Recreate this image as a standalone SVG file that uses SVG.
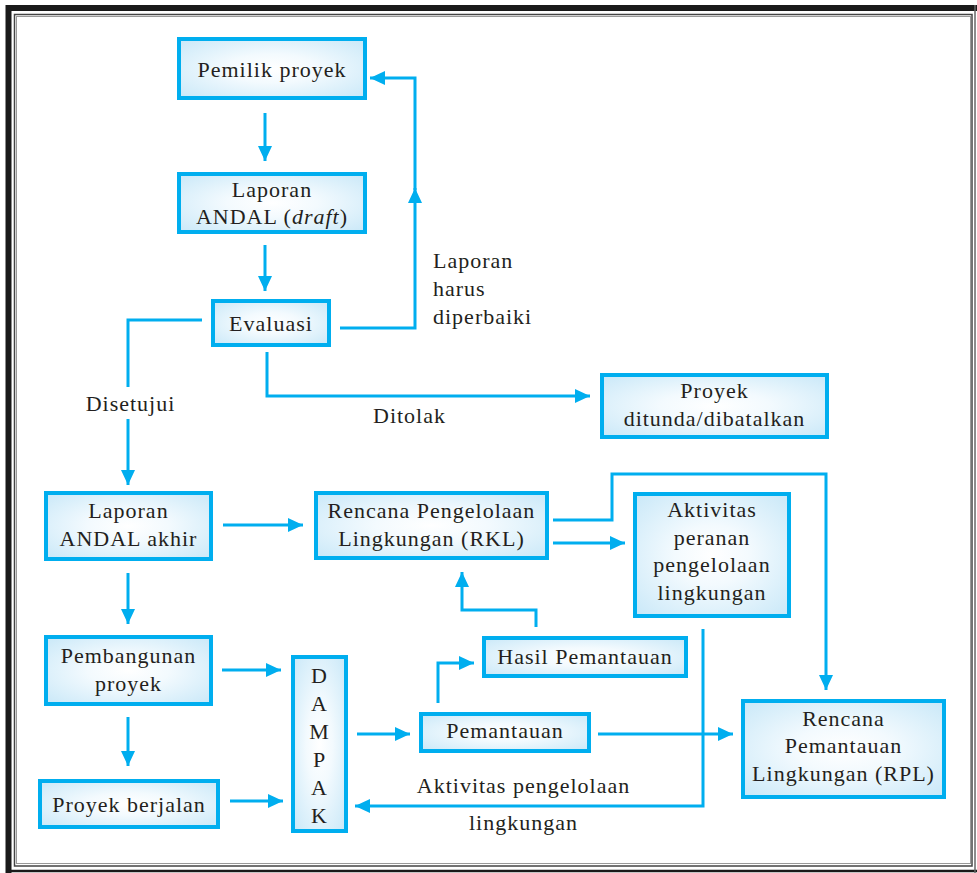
<svg xmlns="http://www.w3.org/2000/svg" width="977" height="873" viewBox="0 0 977 873">
<style>
.box{fill:url(#bg);stroke:#00aeef;stroke-width:4}
.t{font-family:"Liberation Serif","Times New Roman",serif;font-size:22px;letter-spacing:1px;fill:#231f20;text-anchor:middle}
.l{text-anchor:start}
.c{fill:none;stroke:#00aeef;stroke-width:3}
.a{marker-end:url(#ah)}
</style>
<defs>
<radialGradient id="bg" cx="0.5" cy="0.5" r="0.7">
<stop offset="0" stop-color="#ffffff"/>
<stop offset="0.35" stop-color="#f3fafe"/>
<stop offset="1" stop-color="#c9e8f8"/>
</radialGradient>
<marker id="ah" markerUnits="userSpaceOnUse" markerWidth="16" markerHeight="14" refX="15" refY="7" orient="auto">
<path d="M0,0 L15,7 L0,14 Z" fill="#00aeef"/>
</marker>
</defs>
<rect x="0" y="0" width="977" height="873" fill="#ffffff"/>
<g id="frame" fill="none">
<path d="M8.5 873 V8 H977" stroke="#1a1a1a" stroke-width="6"/>
<path d="M6 871 H977" stroke="#1a1a1a" stroke-width="2.5"/>
<path d="M975 5 V873" stroke="#666" stroke-width="1.5"/>
<rect x="14.5" y="14.5" width="957.5" height="851.5" stroke="#444" stroke-width="1.5"/>
<rect x="16.5" y="16.5" width="954" height="847" stroke="#999" stroke-width="1"/>
</g>
<g id="connectors">
<path class="c a" d="M265 113 V161"/>
<path class="c a" d="M265 245 V291"/>
<path class="c a" d="M340 328 H415 V188"/>
<path class="c a" d="M415 190 V78 H370"/>
<path class="c" d="M202 320 H128 V387"/>
<path class="c a" d="M128 419 V485"/>
<path class="c a" d="M267 352 V396 H590"/>
<path class="c a" d="M223 525 H303"/>
<path class="c a" d="M128 573 V624"/>
<path class="c a" d="M553 543 H625"/>
<path class="c a" d="M553 520 H612 V474 H826 V690"/>
<path class="c a" d="M222 670 H281"/>
<path class="c a" d="M230 801 H283"/>
<path class="c a" d="M128 717 V766"/>
<path class="c a" d="M357 734 H410"/>
<path class="c a" d="M438 703 V663 H474"/>
<path class="c a" d="M536 627 V610 H462 V572"/>
<path class="c a" d="M598 734 H733"/>
<path class="c a" d="M703 629 V806 H355"/>
</g>
<g id="labels">
<text class="t l" x="433" y="268">Laporan</text>
<text class="t l" x="433" y="296">harus</text>
<text class="t l" x="433" y="324">diperbaiki</text>
<text class="t" x="130.5" y="411">Disetujui</text>
<text class="t" x="409.5" y="423">Ditolak</text>
<text class="t" x="523.5" y="793">Aktivitas pengelolaan</text>
<text class="t" x="523.5" y="830">lingkungan</text>
</g>
<g id="n-pemilik">
<rect class="box" x="179" y="39" width="186" height="59"/>
<text class="t" x="272" y="77">Pemilik proyek</text>
</g>
<g id="n-draft">
<rect class="box" x="179" y="174" width="186" height="58"/>
<text class="t" x="272" y="197">Laporan</text>
<text class="t" x="272" y="224">ANDAL (<tspan font-style="italic">draft</tspan>)</text>
</g>
<g id="n-evaluasi">
<rect class="box" x="213" y="301" width="116" height="44"/>
<text class="t" x="271" y="331">Evaluasi</text>
</g>
<g id="n-ditunda">
<rect class="box" x="602" y="375" width="225" height="62"/>
<text class="t" x="714.5" y="398">Proyek</text>
<text class="t" x="714.5" y="426">ditunda/dibatalkan</text>
</g>
<g id="n-akhir">
<rect class="box" x="46" y="493" width="165" height="66"/>
<text class="t" x="128.5" y="518">Laporan</text>
<text class="t" x="128.5" y="546">ANDAL akhir</text>
</g>
<g id="n-rkl">
<rect class="box" x="316" y="493" width="231" height="65"/>
<text class="t" x="431.5" y="518">Rencana Pengelolaan</text>
<text class="t" x="431.5" y="546">Lingkungan (RKL)</text>
</g>
<g id="n-aktivitas">
<rect class="box" x="635" y="494" width="154" height="122"/>
<text class="t" x="712" y="517">Aktivitas</text>
<text class="t" x="712" y="545">peranan</text>
<text class="t" x="712" y="572">pengelolaan</text>
<text class="t" x="712" y="600">lingkungan</text>
</g>
<g id="n-pembangunan">
<rect class="box" x="46" y="637" width="165" height="67"/>
<text class="t" x="128.5" y="663">Pembangunan</text>
<text class="t" x="128.5" y="691">proyek</text>
</g>
<g id="n-berjalan">
<rect class="box" x="40" y="781" width="178" height="46"/>
<text class="t" x="129" y="812">Proyek berjalan</text>
</g>
<g id="n-dampak">
<rect class="box" x="293" y="657" width="53" height="174"/>
<text class="t" x="319.5" y="683">D</text>
<text class="t" x="319.5" y="711">A</text>
<text class="t" x="319.5" y="739">M</text>
<text class="t" x="319.5" y="767">P</text>
<text class="t" x="319.5" y="795">A</text>
<text class="t" x="319.5" y="823">K</text>
</g>
<g id="n-hasil">
<rect class="box" x="484" y="638" width="202" height="38"/>
<text class="t" x="585" y="664">Hasil Pemantauan</text>
</g>
<g id="n-pemantauan">
<rect class="box" x="421" y="714" width="168" height="37"/>
<text class="t" x="505" y="738">Pemantauan</text>
</g>
<g id="n-rpl">
<rect class="box" x="743" y="701" width="201" height="96"/>
<text class="t" x="843.5" y="726">Rencana</text>
<text class="t" x="843.5" y="753">Pemantauan</text>
<text class="t" x="843.5" y="781">Lingkungan (RPL)</text>
</g>
</svg>
